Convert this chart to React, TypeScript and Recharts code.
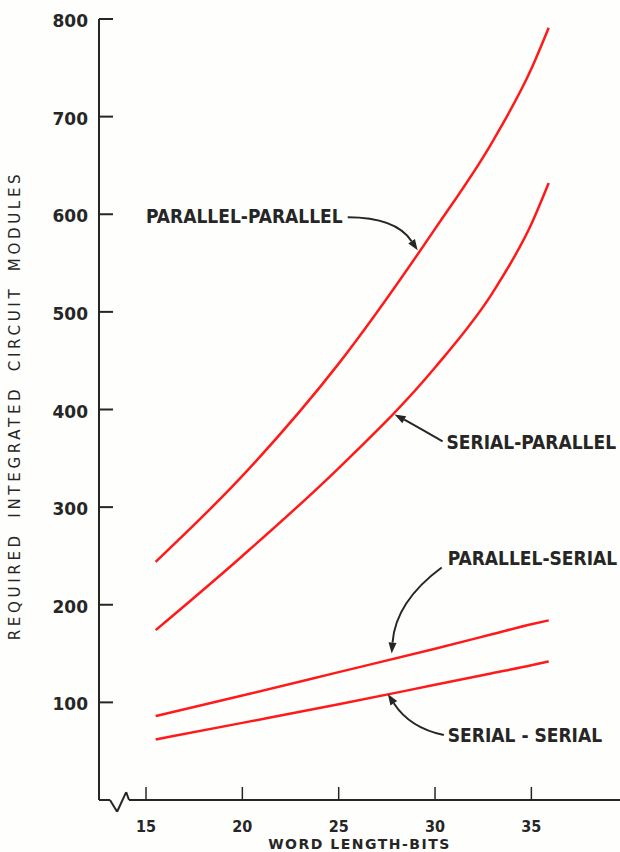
import { LineChart, Line, XAxis, YAxis, ReferenceLine, ReferenceDot } from "recharts";

// word length (bits) and module counts
const bits = [15.5, 20, 25, 30, 33, 35, 35.9];
const parallelParallel = [244, 332, 447, 585, 675, 749, 791];
const serialParallel = [174, 250, 340, 443, 520, 590, 632];
const parallelSerial = [86, 107, 131, 155, 170, 180, 184];
const serialSerial = [62, 79, 98, 118, 130, 138, 142];

const xTicks = [15, 20, 25, 30, 35];
const yTicks = [100, 200, 300, 400, 500, 600, 700, 800];

// broken x axis: straight run, zigzag, straight run (data units)
const axisPath = [
    { x: 12.56, y: 0 },
    { x: 13.13, y: 0 },
    { x: 13.5, y: -12 },
    { x: 13.97, y: 8 },
    { x: 14.12, y: 0 },
    { x: 39.6, y: 0 },
];

// callouts: arrow tip in data units, label + arrow offsets in px
const notes = [
    { text: "PARALLEL-PARALLEL", x: 29.1, y: 563, tx: -75, ty: -34, anchor: "end", from: [-70, -33], ctrl: [-22, -33] },
    { text: "SERIAL-PARALLEL", x: 27.9, y: 395, tx: 52, ty: 28, anchor: "start", from: [48, 27], ctrl: [22, 12] },
    { text: "PARALLEL-SERIAL", x: 27.75, y: 150, tx: 56, ty: -96, anchor: "start", from: [50, -86], ctrl: [4, -52] },
    { text: "SERIAL - SERIAL", x: 27.55, y: 108.6, tx: 60, ty: 41, anchor: "start", from: [56, 41], ctrl: [22, 34] },
];

const data = bits.map((b, i) => ({
    bits: b,
    pp: parallelParallel[i],
    sp: serialParallel[i],
    ps: parallelSerial[i],
    ss: serialSerial[i],
}));

const INK = "#262626";
const RED = "#ff1a1a";
const LABEL_FONT = "'DejaVu Sans Condensed', 'DejaVu Sans', sans-serif";

function XTick(props: any) {
    const { x, y, payload } = props;
    return (
        <g>
            <line x1={x} y1={y} x2={x} y2={y - 13} stroke={INK} strokeWidth={1.5} />
            <text x={x} y={y + 32} textAnchor="middle" fill={INK} fontSize={16} fontWeight="bold" fontFamily={LABEL_FONT}>
                {payload.value}
            </text>
        </g>
    );
}

function YTick(props: any) {
    const { x, y, payload } = props;
    return (
        <g>
            <line x1={x} y1={y} x2={x + 14} y2={y} stroke={INK} strokeWidth={2} />
            <text x={x - 11} y={y + 2} textAnchor="end" dominantBaseline="central" fill={INK} fontSize={17} fontWeight="bold" fontFamily="'DejaVu Sans', sans-serif">
                {payload.value}
            </text>
        </g>
    );
}

function XTitle(props: any) {
    const vb = props.viewBox;
    return (
        <text
            x={vb.x + vb.width / 2}
            y={vb.y + vb.height - 3}
            textAnchor="middle"
            fill={INK}
            fontSize={14}
            fontWeight="bold"
            letterSpacing={1.5}
            fontFamily="'DejaVu Sans', sans-serif"
        >
            WORD LENGTH-BITS
        </text>
    );
}

function YTitle(props: any) {
    const vb = props.viewBox;
    const cx = vb.x + 15;
    const cy = vb.y + vb.height / 2 - 4;
    return (
        <text
            transform={`translate(${cx}, ${cy}) rotate(-90)`}
            textAnchor="middle"
            dominantBaseline="central"
            fill={INK}
            fontSize={15}
            letterSpacing={3.7}
            wordSpacing={6}
            fontFamily="'DejaVu Sans', sans-serif"
        >
            REQUIRED INTEGRATED CIRCUIT MODULES
        </text>
    );
}

function Callout(props: any) {
    const { cx, cy, note } = props;
    const [fx, fy] = note.from;
    const [qx, qy] = note.ctrl;
    const len = Math.hypot(qx, qy);
    const ux = -qx / len;
    const uy = -qy / len;
    const bx = cx - ux * 11;
    const by = cy - uy * 11;
    const px = -uy * 4;
    const py = ux * 4;
    return (
        <g>
            <path
                d={`M${cx + fx},${cy + fy} Q${cx + qx},${cy + qy} ${bx},${by}`}
                fill="none"
                stroke={INK}
                strokeWidth={2}
            />
            <polygon points={`${cx},${cy} ${bx + px},${by + py} ${bx - px},${by - py}`} fill={INK} />
            <text
                x={cx + note.tx}
                y={cy + note.ty}
                textAnchor={note.anchor}
                dominantBaseline="central"
                fill={INK}
                fontSize={19}
                fontWeight="bold"
                fontFamily={LABEL_FONT}
            >
                {note.text}
            </text>
        </g>
    );
}

export default function App() {
    return (
        <div style={{ position: "absolute", left: 0, top: 0, width: 620, height: 852, background: "#fefefc" }}>
            <LineChart width={620} height={852} data={data} margin={{ top: 19, right: 0, bottom: 0, left: 0 }}>
                <XAxis
                    dataKey="bits"
                    type="number"
                    domain={[12.56, 39.6]}
                    ticks={xTicks}
                    allowDataOverflow
                    axisLine={false}
                    tickLine={false}
                    tickSize={0}
                    tickMargin={0}
                    height={52}
                    tick={<XTick />}
                    label={{ content: <XTitle /> }}
                />
                <YAxis
                    type="number"
                    domain={[0, 800]}
                    ticks={yTicks}
                    width={99}
                    axisLine={{ stroke: INK, strokeWidth: 2 }}
                    tickLine={false}
                    tickSize={0}
                    tickMargin={0}
                    tick={<YTick />}
                    label={{ content: <YTitle /> }}
                />
                {axisPath.slice(1).map((p, i) => (
                    <ReferenceLine
                        key={i}
                        segment={[axisPath[i], p]}
                        stroke={INK}
                        strokeWidth={2}
                        ifOverflow="visible"
                    />
                ))}
                <Line type="monotone" dataKey="pp" stroke={RED} strokeWidth={2.5} dot={false} isAnimationActive={false} />
                <Line type="monotone" dataKey="sp" stroke={RED} strokeWidth={2.5} dot={false} isAnimationActive={false} />
                <Line type="monotone" dataKey="ps" stroke={RED} strokeWidth={2.5} dot={false} isAnimationActive={false} />
                <Line type="monotone" dataKey="ss" stroke={RED} strokeWidth={2.5} dot={false} isAnimationActive={false} />
                {notes.map((n) => (
                    <ReferenceDot
                        key={n.text}
                        x={n.x}
                        y={n.y}
                        r={0}
                        ifOverflow="visible"
                        shape={(p: any) => <Callout {...p} note={n} />}
                    />
                ))}
            </LineChart>
        </div>
    );
}
